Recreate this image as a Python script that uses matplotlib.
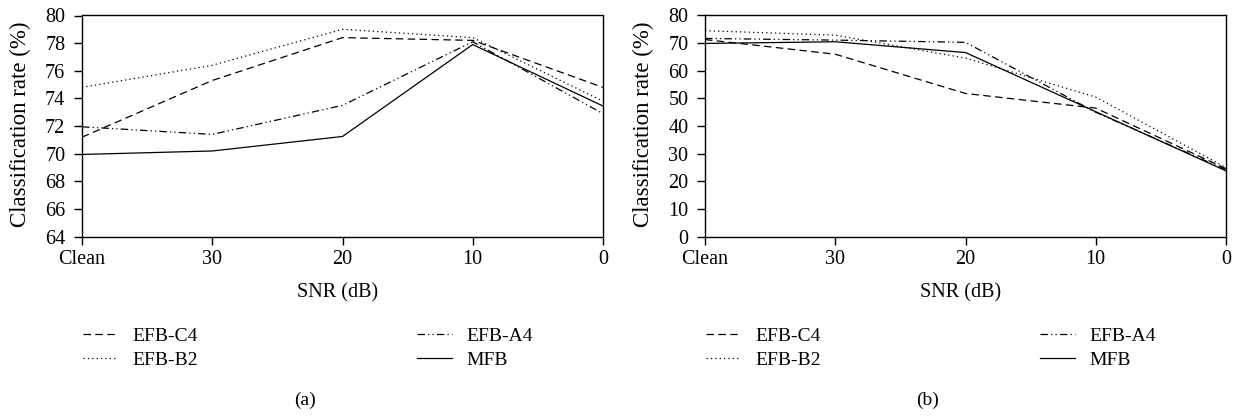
import numpy as np
import matplotlib
matplotlib.use("Agg")
import matplotlib.pyplot as plt

plt.rcParams['font.family'] = ['Liberation Serif', 'DejaVu Serif']

snr_labels = ['Clean', '30', '20', '10', '0']
series_names = ['EFB-C4', 'EFB-B2', 'EFB-A4', 'MFB']

# panel (a)
a_c4 = [71.2, 75.3, 78.4, 78.2, 74.8]
a_b2 = [74.8, 76.4, 79.0, 78.4, 73.8]
a_a4 = [71.95, 71.4, 73.5, 78.1, 72.9]
a_mfb = [69.95, 70.2, 71.25, 77.9, 73.45]

# panel (b)
b_c4 = [71.3, 66.0, 51.8, 46.5, 24.6]
b_b2 = [74.5, 72.9, 64.6, 50.5, 25.0]
b_a4 = [71.7, 71.1, 70.3, 45.0, 24.2]
b_mfb = [69.9, 70.5, 66.6, 45.2, 23.8]

styles = [
    dict(linestyle=(0, (6, 3.5))),
    dict(linestyle=(0, (1, 2.5))),
    dict(linestyle=(0, (6, 2.5, 1, 2.5, 1, 2.5))),
    dict(linestyle='-'),
]

W, H = 1242, 416
fig = plt.figure(figsize=(W / 100, H / 100), dpi=100)
ax1 = fig.add_axes([82 / W, 1 - 236.7 / H, 521 / W, 221.2 / H])
ax2 = fig.add_axes([705 / W, 1 - 236.7 / H, 521 / W, 221.2 / H])

fs_tick = 14.5
fs_leg = 14


def draw(ax, data, ylim, yticks, tag, xoff):
    x = np.arange(len(snr_labels))
    for vals, name, st in zip(data, series_names, styles):
        ax.plot(x, vals, color='black', linewidth=0.9, label=name, **st)
    ax.set_xlim(0, len(snr_labels) - 1)
    ax.set_ylim(*ylim)
    ax.set_xticks(x)
    ax.set_xticklabels(snr_labels, fontsize=fs_tick)
    ax.set_yticks(yticks)
    ax.set_yticklabels([str(t) for t in yticks], fontsize=fs_tick)
    ax.tick_params(direction='out', length=6, width=1)
    ax.tick_params(axis='x', pad=3.5)
    ax.tick_params(axis='y', pad=6)
    for s in ax.spines.values():
        s.set_linewidth(1.0)
    ax.set_xlabel('SNR (dB)', fontsize=fs_tick, va='center')
    ax.xaxis.set_label_coords(0.49, -0.254)
    ax.set_ylabel('Classification rate (%)', fontsize=16.5, va='center', ha='center')
    ax.yaxis.set_label_coords(-0.119, 0.51)
    ax.legend(loc='center left', bbox_to_anchor=((83 + xoff) / W, 1 - 348 / H),
              bbox_transform=fig.transFigure, ncol=2, frameon=False,
              fontsize=fs_leg, handlelength=1.8, handletextpad=0.72,
              columnspacing=11.3, labelspacing=0.33, borderpad=0, borderaxespad=0)
    fig.text((305 + xoff) / W, 1 - 400 / H, tag, ha='center', va='center', fontsize=fs_leg)


draw(ax1, [a_c4, a_b2, a_a4, a_mfb], (64, 80), list(range(64, 81, 2)), '(a)', 0)
draw(ax2, [b_c4, b_b2, b_a4, b_mfb], (0, 80), list(range(0, 81, 10)), '(b)', 623)

fig.savefig('out.png', dpi=100)
